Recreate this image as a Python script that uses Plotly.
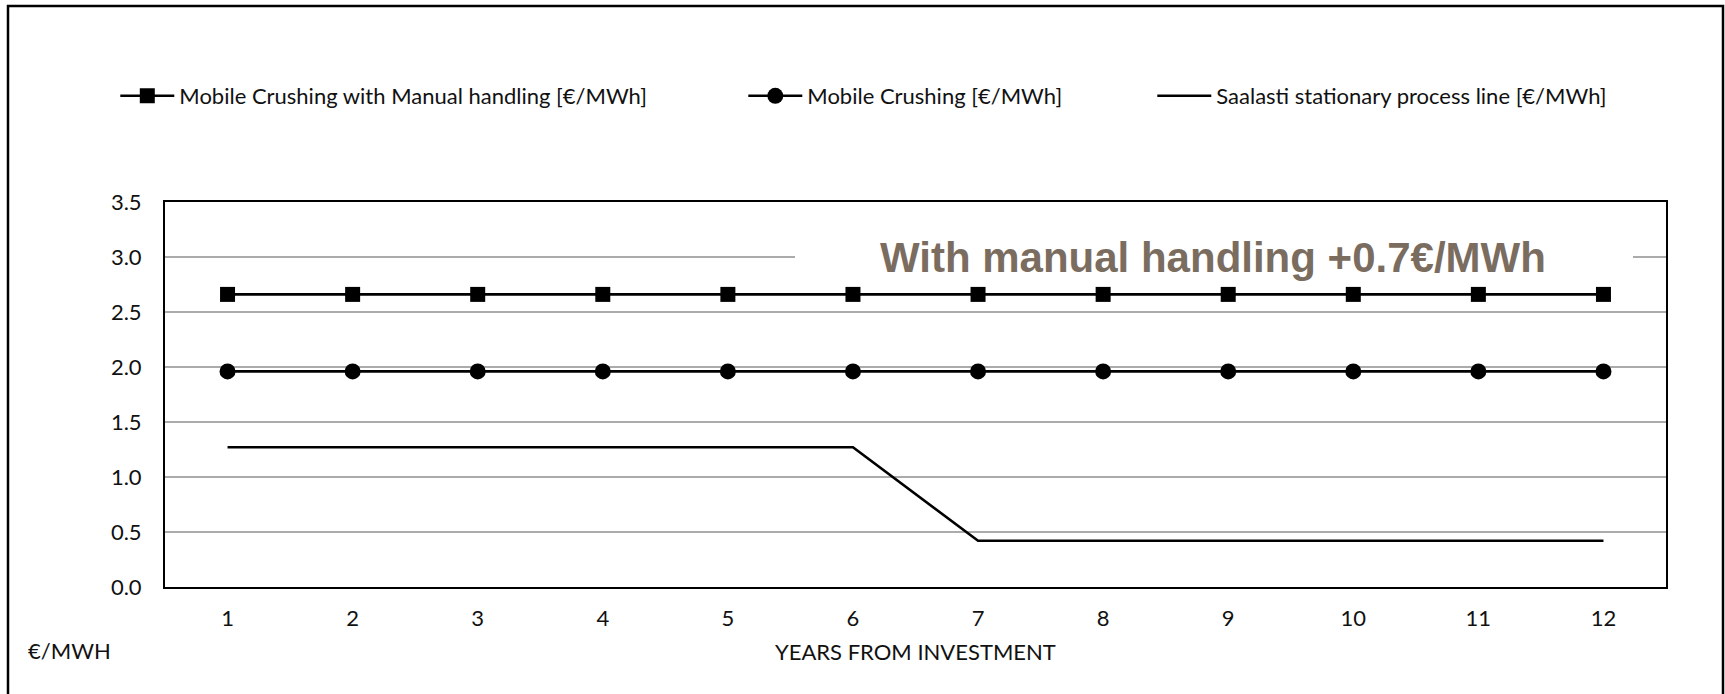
import plotly.graph_objects as go

# Cost per MWh over the years following the investment
years = [1, 2, 3, 4, 5, 6, 7, 8, 9, 10, 11, 12]
mobile_manual = [2.66, 2.66, 2.66, 2.66, 2.66, 2.66, 2.66, 2.66, 2.66, 2.66, 2.66, 2.66]
mobile = [1.96, 1.96, 1.96, 1.96, 1.96, 1.96, 1.96, 1.96, 1.96, 1.96, 1.96, 1.96]
stationary = [1.27, 1.27, 1.27, 1.27, 1.27, 1.27, 0.42, 0.42, 0.42, 0.42, 0.42, 0.42]
y_ticks = [0.0, 0.5, 1.0, 1.5, 2.0, 2.5, 3.0, 3.5]

W, H = 1725, 694
L, R, T, B = 165, 59, 202, 107
pw, ph = W - L - R, H - T - B


def px_x(px):
    return (px - L) / pw


def px_y(py):
    return (H - B - py) / ph


LABEL_FONT = dict(family="Lato, Open Sans, sans-serif", size=22, color="#111111")

fig = go.Figure()
fig.add_trace(go.Scatter(
    x=years, y=mobile_manual, mode="lines+markers",
    name="Mobile Crushing with Manual handling [€/MWh]",
    line=dict(color="black", width=2.6),
    marker=dict(symbol="square", size=15, color="black"),
    legend="legend",
))
fig.add_trace(go.Scatter(
    x=years, y=mobile, mode="lines+markers",
    name="Mobile Crushing [€/MWh]",
    line=dict(color="black", width=2.6),
    marker=dict(symbol="circle", size=16, color="black"),
    legend="legend2",
))
fig.add_trace(go.Scatter(
    x=years, y=stationary, mode="lines",
    name="Saalasti stationary process line [€/MWh]",
    line=dict(color="black", width=2.6),
    legend="legend3",
))

legend_common = dict(
    orientation="h", yanchor="middle", xanchor="left",
    font=LABEL_FONT, bgcolor="rgba(0,0,0,0)", itemwidth=54,
)

fig.update_layout(
    width=W, height=H,
    margin=dict(l=L, r=R, t=T, b=B),
    paper_bgcolor="white", plot_bgcolor="white",
    showlegend=True,
    legend=dict(x=px_x(115.3), y=px_y(96), **legend_common),
    legend2=dict(x=px_x(743.3), y=px_y(96), **legend_common),
    legend3=dict(x=px_x(1152.3), y=px_y(96), **legend_common),
    xaxis=dict(
        range=[0.5, 12.5], tickmode="array", tickvals=years,
        ticktext=[str(v) for v in years], showgrid=False,
        showline=True, linecolor="black", linewidth=2, mirror=True,
        ticks="", tickfont=LABEL_FONT, ticklabelstandoff=11, zeroline=False,
    ),
    yaxis=dict(
        range=[0, 3.5], tickmode="array", tickvals=y_ticks,
        ticktext=[f"{v:.1f}" for v in y_ticks],
        showgrid=True, gridcolor="#ababab", gridwidth=1.5,
        showline=True, linecolor="black", linewidth=2, mirror=True,
        ticks="", tickfont=LABEL_FONT, ticklabelstandoff=17, zeroline=False,
    ),
    shapes=[
        # white backing behind the callout text
        dict(type="rect", xref="paper", yref="y", layer="above",
             x0=px_x(795), x1=px_x(1633), y0=2.85, y1=3.2,
             fillcolor="white", line=dict(width=0)),
        # outer frame around the whole chart
        dict(type="rect", xref="paper", yref="paper", layer="above",
             x0=px_x(8), x1=px_x(1723), y0=px_y(720), y1=px_y(6),
             fillcolor="rgba(0,0,0,0)", line=dict(color="black", width=2.5)),
    ],
    annotations=[
        dict(text="<b>With manual handling +0.7€/MWh</b>",
             xref="paper", yref="y", x=px_x(1213), y=3.0,
             xanchor="center", yanchor="middle", showarrow=False,
             font=dict(family="Liberation Sans Narrow, Arial Narrow, Liberation Sans, Arial, sans-serif",
                       size=42, color="#7a6c5f")),
        dict(text="YEARS FROM INVESTMENT", xref="paper", yref="paper",
             x=0.5, y=px_y(651.5), xanchor="center", yanchor="middle",
             showarrow=False, font=LABEL_FONT),
        dict(text="€/MWH", xref="paper", yref="paper",
             x=px_x(26), y=px_y(650), xanchor="left", yanchor="middle",
             showarrow=False, font=LABEL_FONT),
    ],
)

fig.write_html("out.html")
